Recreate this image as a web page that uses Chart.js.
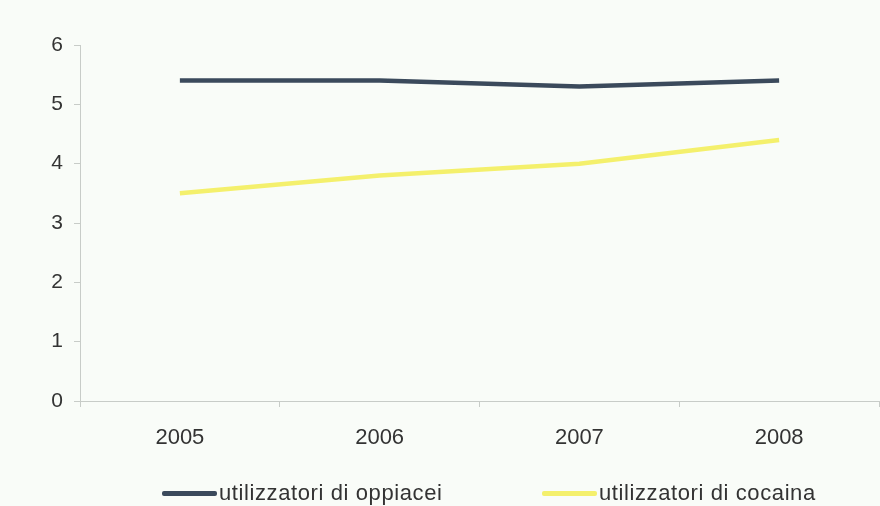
<!DOCTYPE html>
<html>
<head>
<meta charset="utf-8">
<script src="https://cdn.jsdelivr.net/npm/chart.js@4.4.0/dist/chart.umd.min.js"></script>
<style>
  html, body { margin: 0; padding: 0; background: #f9fcf8; }
  #wrap { position: relative; width: 880px; height: 506px; }
  #legend { position: absolute; left: 0; top: 480px; width: 880px; height: 26px;
            font-family: "Liberation Sans", Arial, sans-serif; font-size: 22px; letter-spacing: 0.6px;
            color: #333333; }
  .item { position: absolute; top: 0; display: flex; align-items: center; height: 26px; }
  .swatch { display: inline-block; width: 55px; height: 5px; margin-right: 2px; border-radius: 2px; }
</style>
</head>
<body>
<div id="wrap">
  <canvas id="chart" width="880" height="506"></canvas>
  <div id="legend"></div>
</div>
<script>
// data
const years = ['2005', '2006', '2007', '2008'];
const oppiacei = [5.4, 5.4, 5.3, 5.4];
const cocaina = [3.5, 3.8, 4.0, 4.4];
const yTicks = [0, 1, 2, 3, 4, 5, 6];

const seriesNames = ['utilizzatori di oppiacei', 'utilizzatori di cocaina'];
const seriesColors = ['#3b4a5c', '#f4f06c'];

const axisColor = '#c8ccc8';
const textColor = '#333333';
const fontFamily = '"Liberation Sans", Arial, sans-serif';

const chart = new Chart(document.getElementById('chart'), {
    type: 'line',
    data: {
        labels: years,
        datasets: [
            {
                label: seriesNames[0],
                data: oppiacei,
                borderColor: seriesColors[0],
                backgroundColor: seriesColors[0],
                borderWidth: 4.5,
                pointRadius: 0,
                tension: 0,
            },
            {
                label: seriesNames[1],
                data: cocaina,
                borderColor: seriesColors[1],
                backgroundColor: seriesColors[1],
                borderWidth: 4.5,
                pointRadius: 0,
                tension: 0,
            },
        ],
    },
    options: {
        responsive: false,
        animation: false,
        layout: { padding: { top: 45, right: 1, left: 0, bottom: 0 } },
        plugins: {
            tooltip: { enabled: false },
            legend: { display: false },
        },
        scales: {
            x: {
                offset: true,
                grid: { drawOnChartArea: false, color: axisColor, tickLength: 6, offset: true },
                border: { color: axisColor, width: 1 },
                ticks: { color: textColor, padding: 18, font: { family: fontFamily, size: 22 } },
                afterFit: (scale) => { scale.height = 105; },
            },
            y: {
                min: 0,
                max: 6,
                afterBuildTicks: (scale) => { scale.ticks = yTicks.map(v => ({ value: v })); },
                grid: { drawOnChartArea: false, color: axisColor, tickLength: 6 },
                border: { color: axisColor, width: 1 },
                ticks: { color: textColor, padding: 11, font: { family: fontFamily, size: 21 } },
                afterFit: (scale) => { scale.width = 80; },
            },
        },
    },
});

// legend drawn as html so the spacing can follow the reference
const legendX = [162, 542];
const legend = document.getElementById('legend');
chart.data.datasets.forEach((ds, i) => {
    const item = document.createElement('div');
    item.className = 'item';
    item.style.left = legendX[i] + 'px';
    const sw = document.createElement('span');
    sw.className = 'swatch';
    sw.style.background = ds.borderColor;
    const txt = document.createElement('span');
    txt.textContent = ds.label;
    item.appendChild(sw);
    item.appendChild(txt);
    legend.appendChild(item);
});
</script>
</body>
</html>
